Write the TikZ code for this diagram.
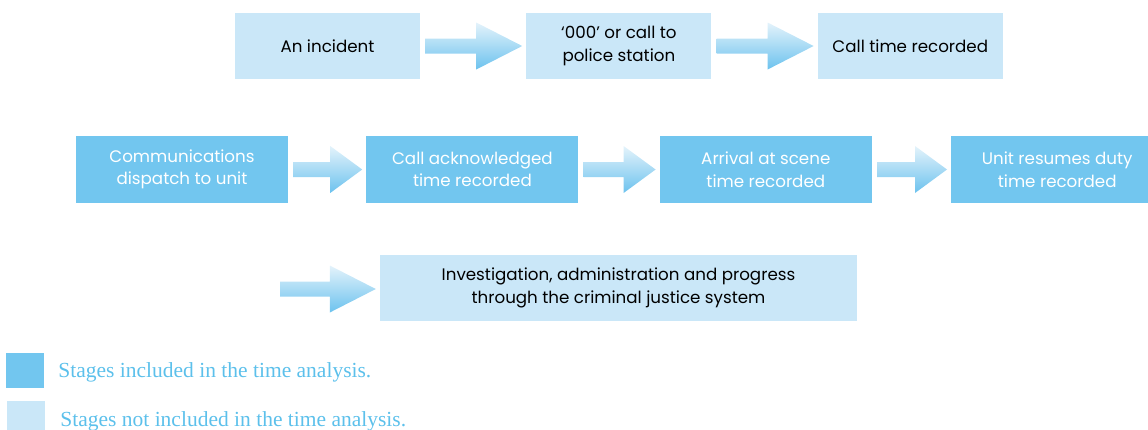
\documentclass[tikz,border=0pt]{standalone}
\usepackage{fontspec}
\setmainfont{Liberation Serif}
\newfontfamily\stagefont{Poppins}
\usepackage{tikz}
\usetikzlibrary{calc, positioning}

\definecolor{stagedark}{HTML}{72C6EF}
\definecolor{stagelight}{HTML}{CAE7F8}
\definecolor{legendblue}{HTML}{5CC0EB}
\definecolor{arrowtop}{HTML}{E4F3FB}
\definecolor{arrowbot}{HTML}{6CC2EE}

% flèche pleine entre deux points : départ, pointe, longueur de la tête
\newcommand{\flowarrow}[3]{%
  \shade[flow] let \p1=(#1), \p2=(#2) in
    (\x1,\y1+7.5pt) -- (\x2-#3,\y1+7.5pt) -- (\x2-#3,\y1+23.5pt) -- (\x2,\y1)
    -- (\x2-#3,\y1-23.5pt) -- (\x2-#3,\y1-7.5pt) -- (\x1,\y1-7.5pt) -- cycle;}

\begin{document}
\begin{tikzpicture}[
    x=1pt, y=1pt,
    node distance=106pt,
    stage/.style={rectangle, inner sep=0pt, align=center, font=\stagefont\fontsize{16.7}{22.5}\selectfont},
    lightstage/.style={stage, fill=stagelight, text=black, minimum width=185pt, minimum height=66pt},
    darkstage/.style={stage, fill=stagedark, text=white, minimum width=212pt, minimum height=67pt},
    flow/.style={top color=arrowtop, bottom color=arrowbot},
    keybox/.style={rectangle, minimum width=38pt, minimum height=35pt, inner sep=0pt},
    keytext/.style={text=legendblue, font=\fontsize{21.5}{24}\selectfont, inner sep=0pt}
]
\useasboundingbox (0,0) rectangle (1148,-429);
\clip (0,0) rectangle (1148,-429);

% Ligne 1
\node[lightstage] (incident) at (327.5,-46) {An incident};
\node[lightstage, right=of incident] (call) {‘000’ or call to\\police station};
\node[lightstage, right=of call] (logged) {Call time recorded};

% Ligne 2
\node[darkstage] (dispatch) at (182,-169.5) {Communications\\dispatch to unit};
\node[darkstage, right=78pt of dispatch] (ack) {Call acknowledged\\time recorded};
\node[darkstage, right=81pt of ack] (scene) {Arrival at scene\\time recorded};
\node[darkstage, right=79pt of scene] (resume) {Unit resumes duty\\time recorded};

% Ligne 3
\coordinate (entry) at (280,-289);
\node[lightstage, minimum width=477pt] (justice) at (618.5,-288) {Investigation, administration and progress\\through the criminal justice system};

% Flèches
\flowarrow{$(incident.east)+(5pt,0)$}{$(call.west)-(4pt,0)$}{46pt}
\flowarrow{$(call.east)+(5pt,0)$}{$(logged.west)-(4pt,0)$}{46pt}
\flowarrow{$(dispatch.east)+(5pt,0)$}{$(ack.west)-(4pt,0)$}{32pt}
\flowarrow{$(ack.east)+(5pt,0)$}{$(scene.west)-(4pt,0)$}{32pt}
\flowarrow{$(scene.east)+(5pt,0)$}{$(resume.west)-(4pt,0)$}{32pt}
\flowarrow{entry}{$(justice.west)-(4pt,0)$}{46pt}

% Légende
\node[keybox, fill=stagedark] (keyin) at (25,-370) {};
\node[keytext, right=14pt of keyin, yshift=-2pt] (keyintext) {Stages included in the time analysis.};
\node[keybox, fill=stagelight] (keyout) at (26,-418.5) {};
\node[keytext, right=15pt of keyout, yshift=-2.5pt] (keyouttext) {Stages not included in the time analysis.};
\end{tikzpicture}
\end{document}
